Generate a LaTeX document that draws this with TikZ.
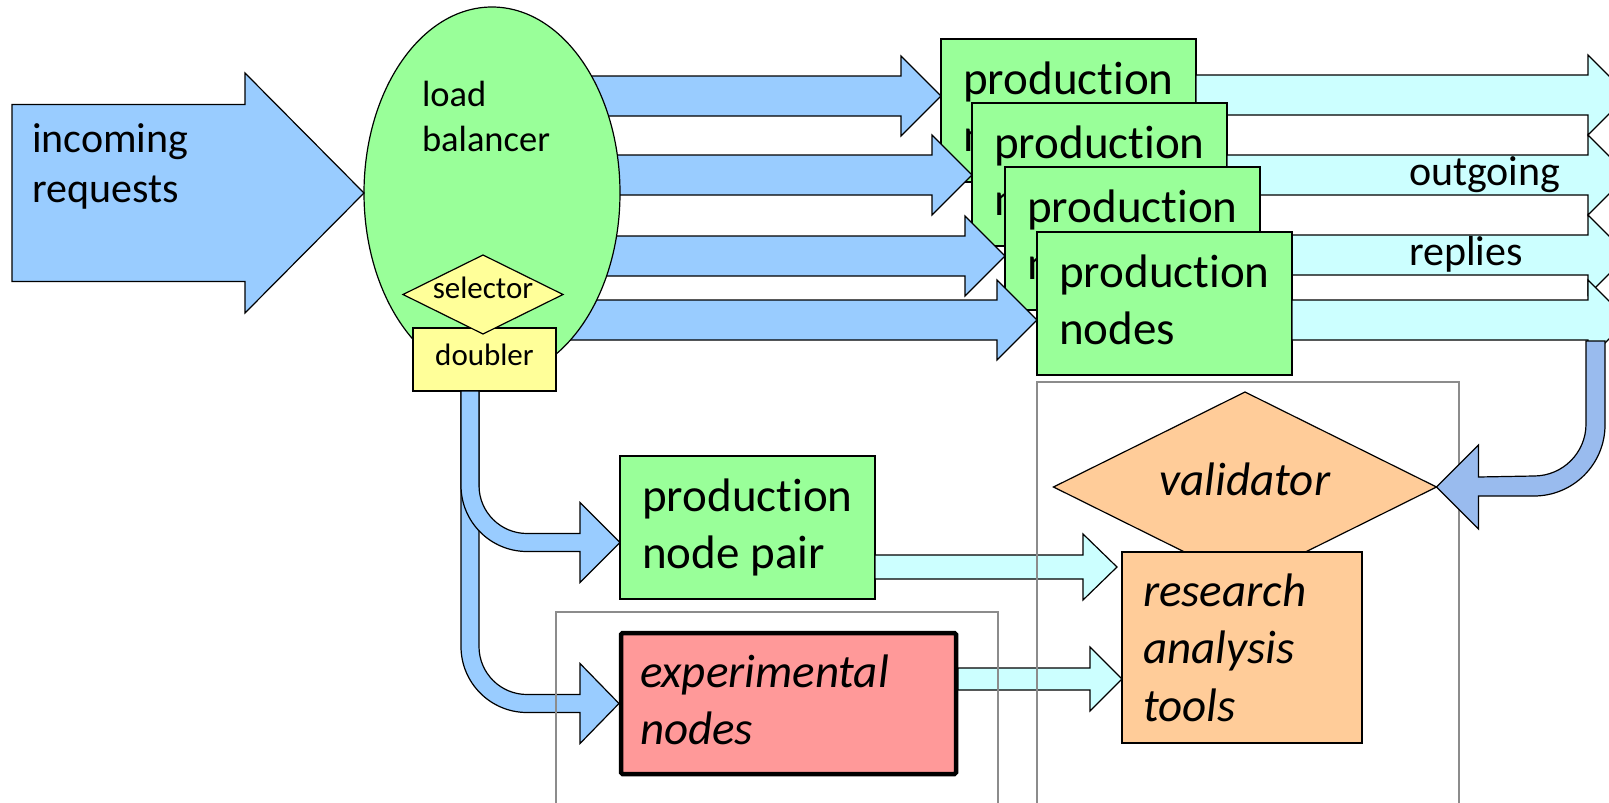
\documentclass[tikz,border=0pt]{standalone}
\usepackage{fontspec}
\setmainfont{Carlito}[Ligatures={NoCommon}]
\usepackage{xcolor}
\usepackage{tikz}
\usetikzlibrary{calc}
\usetikzlibrary{shapes.geometric}

\definecolor{reqblue}{RGB}{153,204,255}
\definecolor{replycyan}{RGB}{204,255,255}
\definecolor{backblue}{RGB}{153,187,238}
\definecolor{nodegreen}{RGB}{153,255,153}
\definecolor{selyellow}{RGB}{255,255,153}
\definecolor{toolorange}{RGB}{255,204,153}
\definecolor{exppink}{RGB}{255,153,153}
\definecolor{framegray}{RGB}{140,140,140}

% block arrow: style, tail (x used), tip, shaft half, head half, head length
\newcommand{\fatarrow}[6]{%
  \path (#2) coordinate (fa-tl) (#3) coordinate (fa-tip);
  \path (fa-tl |- fa-tip) coordinate (fa-tail);
  \draw[#1] ($(fa-tail)+(0,-#4)$) -- ($(fa-tip)+(-#6,-#4)$) -- ($(fa-tip)+(-#6,-#5)$) -- (fa-tip)
    -- ($(fa-tip)+(-#6,#5)$) -- ($(fa-tip)+(-#6,#4)$) -- ($(fa-tail)+(0,#4)$) -- cycle;
}

\begin{document}
\begin{tikzpicture}[x=1pt, y=-1pt,
  every node/.style={outer sep=0pt},
  outline/.style={draw=black, line width=1.2pt, line join=miter},
  reqarrow/.style={outline, fill=reqblue},
  replyarrow/.style={outline, fill=replycyan},
  backarrow/.style={outline, fill=backblue},
  bigfont/.style={font=\fontsize{47}{57.5}\selectfont},
  prodbox/.style={outline, fill=nodegreen, anchor=north west, minimum width=255pt, minimum height=143pt,
    align=left, bigfont, execute at end node={\vphantom{p}}},
  expbox/.style={draw=black, line width=4.5pt, rounded corners=1.5pt, fill=exppink, anchor=north west,
    minimum width=335pt, minimum height=141pt, inner xsep=19pt, text width=297pt, align=left,
    font=\fontsize{47}{57.5}\selectfont\itshape, execute at end node={\vphantom{p}}},
  resbox/.style={outline, fill=toolorange, anchor=north west, minimum width=240pt, minimum height=191pt,
    inner xsep=21pt, text width=198pt, align=left, font=\fontsize{47}{57.5}\selectfont\itshape},
  valdiamond/.style={outline, fill=toolorange, diamond, aspect=2, inner sep=0pt, minimum width=383pt,
    minimum height=190pt, font=\fontsize{47}{57.5}\selectfont\itshape, text depth=15pt},
  balancer/.style={outline, fill=nodegreen, ellipse, inner sep=0pt, minimum width=256pt, minimum height=372pt},
  ybox/.style={outline, fill=selyellow, anchor=north west, minimum width=143pt, minimum height=63pt,
    font=\fontsize{31}{38}\selectfont, text depth=10pt},
  ydiamond/.style={outline, fill=selyellow, diamond, aspect=2, inner sep=0pt, minimum width=160pt,
    minimum height=79pt, font=\fontsize{31}{38}\selectfont, text depth=14pt},
  lbtext/.style={align=left, inner sep=0pt, font=\fontsize{36.5}{45}\selectfont},
  reqtext/.style={align=left, inner sep=0pt, font=\fontsize{42}{50}\selectfont},
  replytext/.style={inner sep=0pt, font=\fontsize{42}{50}\selectfont},
  groupframe/.style={draw=framegray, line width=1.3pt}]

  \useasboundingbox (0,0) rectangle (1609,803);
  \clip (0,0) rectangle (1609,803);

  \coordinate (lbc) at (492,193);
  \coordinate (inq) at (12,192);
  \coordinate (farright) at (1628,0);
  \coordinate (ret) at (1586,341);

  % production nodes, stacked
  \fatarrow{reqarrow}{lbc}{$(941,39)+(0,57)$}{20}{40}{40}
  \node[prodbox] (p1) at (941,39) {production\\nodes};
  \fatarrow{replyarrow}{p1.east}{$(farright |- p1.north east)+(0,56)$}{20}{40}{40}
  \fatarrow{reqarrow}{lbc}{$(972,103)+(0,72)$}{20}{40}{40}
  \node[prodbox] (p2) at (972,103) {production\\nodes};
  \fatarrow{replyarrow}{p2.east}{$(farright |- p2.north east)+(0,72)$}{20}{40}{40}
  \fatarrow{reqarrow}{lbc}{$(1005,167)+(0,89)$}{20}{40}{40}
  \node[prodbox] (p3) at (1005,167) {production\\nodes};
  \fatarrow{replyarrow}{p3.east}{$(farright |- p3.north east)+(0,88)$}{20}{40}{40}
  \fatarrow{reqarrow}{lbc}{$(1037,232)+(0,88)$}{20}{40}{40}
  \node[prodbox] (p4) at (1037,232) {production\\nodes};
  \fatarrow{replyarrow}{p4.east}{$(farright |- p4.north east)+(0,88)$}{20}{40}{40}

  % load balancer
  \node[balancer] (lb) at (lbc) {};
  \node[lbtext, anchor=north west] (lbname) at ($(lb.center)+(-70,-112)$) {load\\balancer};
  \node[ybox] (dbl) at (413,328) {doubler};
  \node[ydiamond] (sel) at (483,294.5) {\makebox[0pt]{selector}};

  \fatarrow{reqarrow}{inq}{lb.west}{88.5}{120}{119}
  \node[reqtext, anchor=north west] (reqname) at ($(inq)+(20,-68)$) {incoming\\requests};

  % doubled traffic
  \node[prodbox] (pair) at (620,456) {production\\node pair};
  \node[expbox] (exp) at (621,633) {experimental\\nodes};
  \path ($(dbl.south west)+(48,0)$) coordinate (d1);
  \path ($(pair.west)+(0,15)$) coordinate (ta);
  \path ($(exp.west)+(-2,0)$) coordinate (tb);
  \draw[reqarrow] (d1) -- ($(d1 |- tb)+(0,-57)$) arc[start angle=180, end angle=270, radius=66pt]
    -- ($(tb)+(-39,9)$) -- ($(tb)+(-39,40)$) -- (tb) -- ($(tb)+(-39,-40)$) -- ($(tb)+(-39,-9)$)
    -- ($(d1 |- tb)+(66,-9)$) arc[start angle=270, end angle=180, radius=48pt] -- ($(d1)+(18,0)$) -- cycle;
  \draw[reqarrow] (d1) -- ($(d1 |- ta)+(0,-57)$) arc[start angle=180, end angle=270, radius=66pt]
    -- ($(ta)+(-40,9)$) -- ($(ta)+(-40,40)$) -- (ta) -- ($(ta)+(-40,-40)$) -- ($(ta)+(-40,-9)$)
    -- ($(d1 |- ta)+(66,-9)$) arc[start angle=270, end angle=180, radius=48pt] -- ($(d1)+(18,0)$) -- cycle;

  % research side
  \node[valdiamond] (val) at (1245,487) {validator};
  \node[resbox] (res) at (1122,552) {research\\analysis\\tools};
  \fatarrow{replyarrow}{pair.east}{$(res.west |- pair.north)+(-5,111)$}{12}{33}{34}
  \fatarrow{replyarrow}{$(exp.east)+(2,0)$}{$(res.west |- exp.north)+(0,46)$}{11}{32}{32}

  \draw[groupframe] (1037,382) rectangle (1459,830);
  \draw[groupframe] (556,612) rectangle (998,830);

  \draw[backarrow] (ret) -- ($(ret |- val.east)+(0,-63)$) arc[start angle=0, end angle=-90, radius=52pt]
    -- ($(val.east)+(42,-10)$) -- ($(val.east)+(42,-42)$) -- (val.east) -- ($(val.east)+(42,42)$)
    -- ($(val.east)+(42,9)$) -- ($(ret |- val.east)+(-52,9)$) arc[start angle=-90, end angle=0, radius=71pt]
    -- ($(ret)+(19,0)$) -- cycle;

  \node[replytext, anchor=base west] (outname) at (1409,185) {outgoing};
  \node[replytext, anchor=base west] (repname) at (1409,265) {replies};
\end{tikzpicture}
\end{document}
